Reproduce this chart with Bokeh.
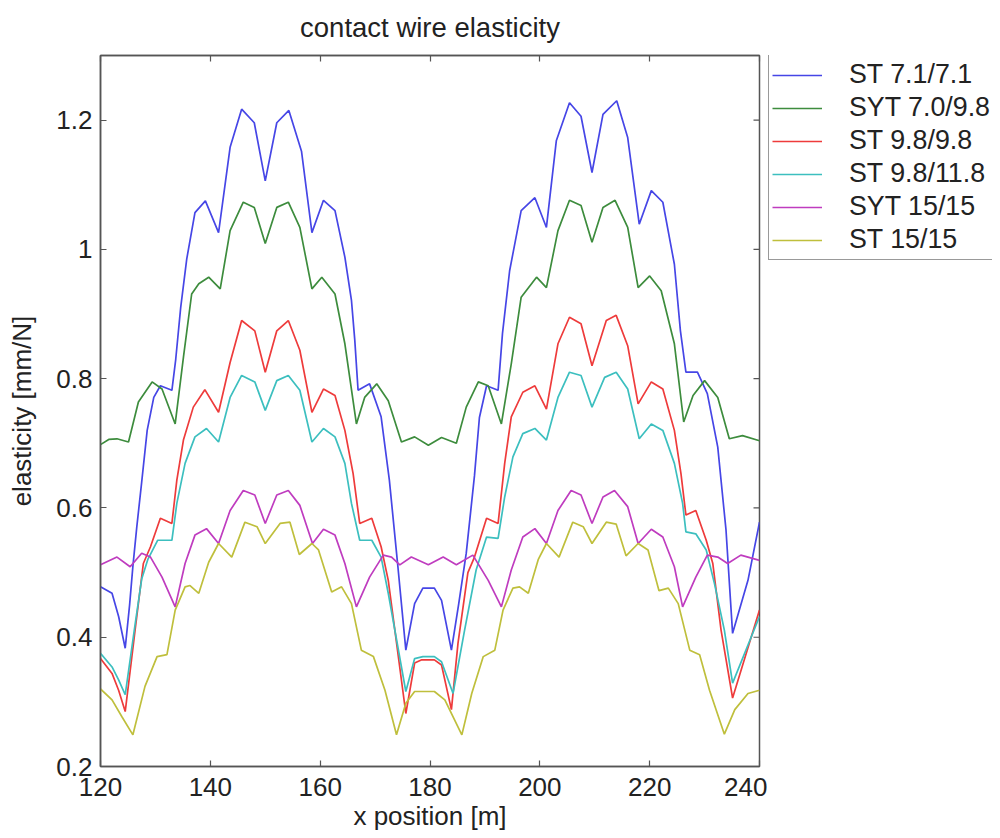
from bokeh.plotting import figure
from bokeh.layouts import row
from bokeh.models import (Legend, LegendItem, LinearAxis, FixedTicker, Range1d,
                          CustomLabelingPolicy)
from bokeh.embed import file_html
from bokeh.resources import INLINE

# ---------------- data ----------------
names = ["ST 7.1/7.1", "SYT 7.0/9.8", "ST 9.8/9.8", "ST 9.8/11.8", "SYT 15/15", "ST 15/15"]

x_st71 = [120.0, 122.1, 123.3, 124.5, 125.3, 125.9, 126.6, 127.5, 128.5, 129.7, 130.9, 133.0, 133.7,
          134.6, 135.7, 137.2, 139.1, 141.5, 143.6, 145.7, 148.0, 150.0, 152.1, 154.3, 156.6, 158.5,
          160.6, 162.7, 164.5, 165.7, 166.3, 166.9, 169.0, 171.1, 172.6, 174.1, 175.6, 177.2, 178.7,
          180.8, 182.1, 183.9, 185.2, 186.6, 188.1, 189.0, 190.3, 192.4, 193.2, 194.5, 196.6, 199.1,
          201.2, 203.0, 205.4, 207.5, 209.5, 211.5, 214.0, 216.0, 218.1, 220.3, 222.4, 224.5, 225.6,
          226.6, 228.7, 230.5, 232.4, 233.9, 235.1, 237.9, 240.0]
y_st71 = [0.478, 0.468, 0.432, 0.383, 0.450, 0.510, 0.570, 0.640, 0.720, 0.771, 0.789, 0.782, 0.830,
          0.910, 0.985, 1.057, 1.075, 1.026, 1.158, 1.217, 1.196, 1.106, 1.196, 1.215, 1.152, 1.026,
          1.076, 1.060, 0.988, 0.921, 0.860, 0.782, 0.792, 0.741, 0.643, 0.514, 0.380, 0.452, 0.476,
          0.476, 0.457, 0.380, 0.450, 0.530, 0.650, 0.740, 0.789, 0.782, 0.870, 0.967, 1.060, 1.080,
          1.034, 1.168, 1.227, 1.206, 1.119, 1.209, 1.230, 1.173, 1.039, 1.091, 1.073, 0.977, 0.874,
          0.810, 0.810, 0.777, 0.694, 0.566, 0.406, 0.488, 0.578]

x_syt70 = [120.0, 121.5, 123.0, 125.1, 126.9, 129.4, 131.2, 133.6, 135.1, 136.6, 137.9, 139.7, 141.8,
           143.6, 146.0, 148.0, 150.0, 152.1, 154.2, 156.3, 158.5, 160.3, 162.7, 164.5, 166.6, 168.1,
           170.3, 172.4, 174.8, 177.2, 179.7, 182.1, 184.8, 186.6, 188.8, 190.6, 193.0, 194.8, 196.6,
           199.4, 201.2, 203.3, 205.4, 207.5, 209.5, 211.5, 213.7, 216.0, 217.9, 220.0, 222.1, 224.5,
           226.2, 227.9, 230.0, 232.4, 234.5, 236.9, 240.0]
y_syt70 = [0.698, 0.706, 0.707, 0.702, 0.764, 0.795, 0.784, 0.730, 0.833, 0.931, 0.947, 0.957, 0.939,
           1.029, 1.073, 1.065, 1.009, 1.065, 1.073, 1.034, 0.939, 0.957, 0.931, 0.854, 0.730, 0.771,
           0.792, 0.766, 0.702, 0.710, 0.697, 0.709, 0.700, 0.756, 0.795, 0.789, 0.730, 0.823, 0.926,
           0.957, 0.941, 1.029, 1.076, 1.068, 1.011, 1.065, 1.076, 1.034, 0.941, 0.959, 0.936, 0.854,
           0.733, 0.774, 0.797, 0.771, 0.707, 0.712, 0.704]

x_st98 = [120.0, 122.1, 123.3, 124.5, 126.3, 127.8, 129.1, 130.9, 133.0, 133.9, 135.1, 136.9, 139.0,
          141.5, 143.6, 145.7, 148.1, 150.0, 152.1, 154.2, 156.3, 158.5, 160.6, 162.7, 164.5, 166.0,
          167.2, 169.4, 171.1, 172.4, 173.6, 175.6, 177.2, 178.5, 180.8, 182.1, 183.9, 185.1, 186.9,
          188.1, 190.3, 192.4, 193.6, 194.8, 196.9, 199.1, 201.2, 203.3, 205.4, 207.5, 209.5, 212.1,
          213.9, 216.0, 217.9, 220.3, 222.4, 224.5, 225.7, 226.6, 228.4, 230.3, 231.5, 233.0, 235.1,
          240.0]
y_st98 = [0.367, 0.344, 0.318, 0.285, 0.411, 0.514, 0.540, 0.584, 0.576, 0.643, 0.705, 0.756, 0.783,
          0.748, 0.825, 0.890, 0.874, 0.810, 0.874, 0.890, 0.844, 0.748, 0.784, 0.774, 0.720, 0.653,
          0.576, 0.584, 0.540, 0.488, 0.411, 0.282, 0.360, 0.365, 0.365, 0.357, 0.288, 0.391, 0.500,
          0.524, 0.584, 0.576, 0.669, 0.741, 0.779, 0.789, 0.753, 0.854, 0.895, 0.885, 0.820, 0.890,
          0.898, 0.851, 0.761, 0.795, 0.784, 0.720, 0.653, 0.589, 0.596, 0.550, 0.514, 0.411, 0.306,
          0.442]

x_st118 = [120.0, 122.1, 123.3, 124.5, 126.3, 127.5, 128.6, 130.4, 133.0, 133.9, 135.4, 137.2, 139.3,
           141.5, 143.6, 145.7, 148.1, 150.0, 152.1, 154.2, 156.3, 158.5, 160.6, 162.7, 164.5, 165.7,
           167.2, 169.4, 171.1, 172.4, 175.6, 177.2, 178.7, 180.8, 182.1, 184.2, 186.3, 188.4, 190.3,
           192.4, 193.6, 195.1, 196.9, 199.1, 201.2, 203.3, 205.4, 207.5, 209.5, 211.8, 213.9, 216.0,
           218.1, 220.3, 222.4, 224.5, 226.0, 226.6, 228.4, 230.3, 231.8, 233.6, 235.1, 240.0]
y_st118 = [0.375, 0.354, 0.334, 0.311, 0.420, 0.490, 0.520, 0.550, 0.550, 0.607, 0.669, 0.710, 0.723,
           0.702, 0.771, 0.805, 0.795, 0.751, 0.797, 0.805, 0.782, 0.702, 0.723, 0.710, 0.669, 0.607,
           0.550, 0.550, 0.524, 0.468, 0.316, 0.367, 0.370, 0.370, 0.362, 0.313, 0.411, 0.504, 0.555,
           0.553, 0.617, 0.679, 0.715, 0.723, 0.705, 0.771, 0.810, 0.805, 0.756, 0.802, 0.810, 0.784,
           0.707, 0.730, 0.720, 0.669, 0.607, 0.563, 0.560, 0.535, 0.483, 0.411, 0.329, 0.432]

x_syt15 = [120.0, 123.0, 125.4, 127.5, 129.1, 131.2, 133.6, 135.4, 137.2, 139.3, 141.5, 143.6, 146.0,
           148.1, 150.0, 152.1, 154.2, 156.3, 158.6, 160.6, 162.7, 164.5, 166.6, 169.0, 171.5, 173.0,
           174.5, 176.6, 179.7, 182.4, 184.8, 187.8, 190.6, 193.0, 194.8, 196.9, 199.1, 201.2, 203.3,
           205.7, 207.5, 209.5, 211.5, 213.6, 216.0, 217.9, 220.3, 222.4, 224.5, 226.0, 228.4, 230.5,
           232.4, 234.2, 236.6, 240.0]
y_syt15 = [0.512, 0.524, 0.509, 0.530, 0.524, 0.493, 0.447, 0.514, 0.558, 0.568, 0.545, 0.596, 0.627,
           0.620, 0.576, 0.620, 0.627, 0.604, 0.545, 0.567, 0.558, 0.514, 0.447, 0.493, 0.527, 0.524,
           0.512, 0.524, 0.512, 0.524, 0.512, 0.527, 0.488, 0.447, 0.504, 0.555, 0.568, 0.545, 0.596,
           0.627, 0.620, 0.576, 0.617, 0.627, 0.602, 0.545, 0.567, 0.555, 0.509, 0.447, 0.493, 0.527,
           0.524, 0.514, 0.527, 0.519]

x_st15 = [120.0, 122.1, 123.9, 125.9, 128.1, 130.3, 132.1, 133.6, 135.4, 136.3, 137.9, 139.7, 141.5,
          143.9, 146.3, 148.5, 150.0, 152.7, 154.5, 156.2, 158.5, 159.7, 162.1, 163.9, 165.7, 167.5,
          169.7, 171.8, 173.9, 175.6, 177.2, 180.8, 182.7, 185.8, 187.6, 189.7, 191.8, 193.3, 195.1,
          196.3, 197.9, 199.7, 201.2, 203.5, 206.0, 207.9, 209.5, 212.1, 213.9, 215.7, 217.9, 219.7,
          221.7, 223.4, 225.2, 227.3, 229.1, 230.9, 233.6, 235.5, 237.9, 240.0]
y_st15 = [0.320, 0.303, 0.277, 0.249, 0.324, 0.370, 0.373, 0.442, 0.478, 0.480, 0.468, 0.516, 0.545,
          0.524, 0.578, 0.571, 0.545, 0.576, 0.578, 0.528, 0.545, 0.535, 0.470, 0.478, 0.452, 0.380,
          0.370, 0.318, 0.249, 0.298, 0.316, 0.316, 0.303, 0.249, 0.313, 0.370, 0.380, 0.442, 0.476,
          0.478, 0.468, 0.520, 0.545, 0.524, 0.578, 0.571, 0.545, 0.578, 0.575, 0.526, 0.545, 0.535,
          0.472, 0.476, 0.452, 0.380, 0.373, 0.318, 0.250, 0.288, 0.313, 0.318]

x_ticks = [120, 140, 160, 180, 200, 220, 240]
y_ticks = [0.2, 0.4, 0.6, 0.8, 1.0, 1.2]
y_tick_labels = ["0.2", "0.4", "0.6", "0.8", "1", "1.2"]
title_text = "contact wire elasticity"

series = [(x_st71, y_st71), (x_syt70, y_syt70), (x_st98, y_st98),
          (x_st118, y_st118), (x_syt15, y_syt15), (x_st15, y_st15)]
colors = ["#4646e6", "#3d8c3d", "#ee3b3b", "#3cbfbf", "#bf3cbf", "#bfbf3c"]

FONT = "Liberation Sans"
TXT = "#222222"
FRAME = "#555555"

X0, X1 = 120, 240
Y0, Y1 = 0.2, 1.3
H = 837
TOP = 55          # frame top (px)
BOTTOM = 71       # space under the frame (px)

# ---------------- main plot ----------------
p = figure(width=767, height=H, output_backend="svg", toolbar_location=None,
           x_range=Range1d(X0, X1), y_range=Range1d(Y0, Y1),
           min_border_left=100, min_border_right=8, min_border_top=TOP, min_border_bottom=BOTTOM)
p.background_fill_color = "white"
p.border_fill_color = "white"
p.outline_line_color = FRAME
p.outline_line_width = 1.5
p.grid.visible = False

renderers = []
for (xs, ys), c in zip(series, colors):
    r = p.line(xs, ys, line_color=c, line_width=1.7)
    renderers.append(r)

overrides = {t: l for t, l in zip(y_ticks, y_tick_labels)}

for ax in p.xaxis:
    ax.ticker = FixedTicker(ticks=x_ticks)
for ax in p.yaxis:
    ax.ticker = FixedTicker(ticks=y_ticks)
    ax.major_label_overrides = overrides

def style_axis(ax):
    ax.axis_line_color = FRAME
    ax.axis_line_width = 1.5
    ax.major_tick_line_color = FRAME
    ax.major_tick_line_width = 1.2
    ax.major_tick_in = 6
    ax.major_tick_out = 0
    ax.minor_tick_line_color = None
    ax.major_label_text_font = FONT
    ax.major_label_text_font_size = "26px"
    ax.major_label_text_color = TXT
    ax.axis_label_text_font = FONT
    ax.axis_label_text_font_size = "26px"
    ax.axis_label_text_font_style = "normal"
    ax.axis_label_text_color = TXT

style_axis(p.xaxis[0])
style_axis(p.yaxis[0])
p.xaxis[0].axis_label = "x position [m]"
p.yaxis[0].axis_label = "elasticity [mm/N]"
p.xaxis[0].major_label_standoff = 11
p.xaxis[0].axis_label_standoff = 2
p.yaxis[0].major_label_standoff = 8
p.yaxis[0].axis_label_standoff = 16

# tick-only axis along the top of the box; its axis label carries the chart title
hide_all = CustomLabelingPolicy(code="for (const i of indices) { indices.unset(i) }\nreturn indices")
top_ax = LinearAxis(ticker=FixedTicker(ticks=x_ticks),
                    major_label_overrides={t: "" for t in x_ticks})
style_axis(top_ax)
top_ax.major_label_policy = hide_all
top_ax.major_label_standoff = 0
top_ax.axis_label = title_text
top_ax.axis_label_text_font_size = "27.5px"
top_ax.axis_label_standoff = 13
p.add_layout(top_ax, "above")

# inward ticks along the right edge of the box (dash markers centred on the edge, clipped by the frame)
p.scatter(x=[X1] * len(y_ticks), y=y_ticks, marker="dash", size=12,
          line_color=FRAME, line_width=1.2)

# ---------------- legend panel (separate narrow figure to the right) ----------------
q = figure(width=225, height=H, output_backend="svg", toolbar_location=None,
           x_range=Range1d(0, 1), y_range=Range1d(0, 1),
           x_axis_type=None, y_axis_type=None,
           min_border_left=0, min_border_right=0, min_border_top=TOP, min_border_bottom=BOTTOM)
q.outline_line_color = None
q.grid.visible = False
q.background_fill_color = "white"
q.border_fill_color = "white"

# legend swatches: the same series, drawn outside this panel's visible range
swatches = [q.line(xs, ys, line_color=c, line_width=1.7) for (xs, ys), c in zip(series, colors)]
items = [LegendItem(label=n, renderers=[r]) for n, r in zip(names, swatches)]
LEG_TOP = 56
LEG_H = 2 * 3 + 6 * 33
frame_h = H - TOP - BOTTOM
legend = Legend(items=items, location=(1, frame_h - (LEG_TOP - TOP) - LEG_H))
legend.label_text_font = FONT
legend.label_text_font_size = "26.8px"
legend.label_text_color = TXT
legend.glyph_width = 50
legend.glyph_height = 20
legend.label_height = 33
legend.label_width = 140
legend.label_standoff = 27
legend.spacing = 0
legend.padding = 3
legend.margin = 0
legend.border_line_color = "#333333"
legend.border_line_width = 1.5
legend.background_fill_color = "white"
legend.background_fill_alpha = 1.0
q.add_layout(legend)

layout = row(p, q)
open("out.html", "w").write(file_html(layout, INLINE))
